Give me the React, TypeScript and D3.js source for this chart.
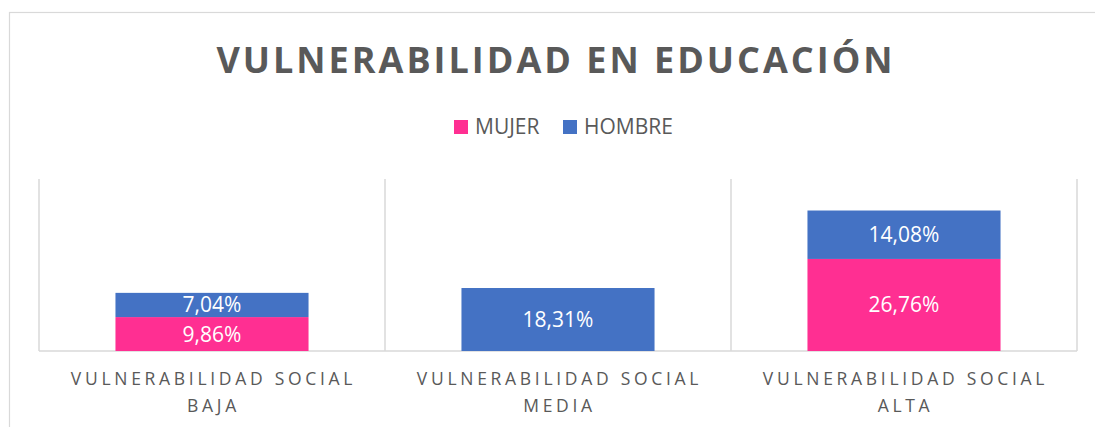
import React from 'react';
import * as d3 from 'd3';

// Stacked bars: education vulnerability by sex and social level.

const categories = [
  ['VULNERABILIDAD SOCIAL', 'BAJA'],
  ['VULNERABILIDAD SOCIAL', 'MEDIA'],
  ['VULNERABILIDAD SOCIAL', 'ALTA'],
];
const mujer = [9.86, 0, 26.76];
const hombre = [7.04, 18.31, 14.08];
const seriesNames = ['MUJER', 'HOMBRE'];
const seriesColors = ['#FF2F92', '#4472C4'];

const W = 1095;
const H = 427;
const PLOT = { left: 39, right: 1077, top: 179, bottom: 351 };
const GRID = '#d9d9d9';
const TEXT = '#595959';
const FONT = '"Open Sans", sans-serif';

const fmt = (v: number) => v.toFixed(2).replace('.', ',') + '%';

export default function App() {
  const keys = categories.map((_, i) => String(i));
  const x = d3.scaleBand().domain(keys).range([PLOT.left, PLOT.right]).padding(0);
  const y = d3.scaleLinear().domain([0, 50]).range([PLOT.bottom, PLOT.top]);
  const bw = x.bandwidth();
  const barW = bw * 0.558;

  const rows = keys.map((k, i) => ({ key: k, MUJER: mujer[i], HOMBRE: hombre[i] }));
  const stacked = d3.stack<any>().keys(seriesNames)(rows);

  const bounds = [...keys.map(k => x(k) as number), PLOT.right];

  return (
    <svg
      width={W}
      height={H}
      style={{ position: 'absolute', left: 0, top: 0, background: '#fff' }}
      fontFamily={FONT}
    >
      <rect x={9.5} y={12.5} width={W + 10} height={H + 10} fill="#fff" stroke={GRID} strokeWidth={1.2} />

      <text
        x={556}
        y={73}
        textAnchor="middle"
        fontSize={36}
        fontWeight={700}
        letterSpacing={3.0}
        fill={TEXT}
      >
        VULNERABILIDAD EN EDUCACIÓN
      </text>

      {/* legend */}
      {seriesNames.map((s, i) => {
        const lx = i === 0 ? 454 : 563;
        return (
          <g key={s}>
            <rect x={lx} y={120} width={14} height={14} fill={seriesColors[i]} />
            <text x={lx + 21} y={134} fontSize={21} fill={TEXT}>{s}</text>
          </g>
        );
      })}

      {/* vertical gridlines */}
      {bounds.map((b, i) => (
        <line key={i} x1={b} x2={b} y1={PLOT.top} y2={PLOT.bottom} stroke={GRID} strokeWidth={1.5} />
      ))}
      <line x1={PLOT.left} x2={PLOT.right} y1={PLOT.bottom} y2={PLOT.bottom} stroke={GRID} strokeWidth={1.5} />

      {/* bars */}
      {stacked.map((layer, si) => (
        <g key={seriesNames[si]}>
          {layer.map((d, i) => {
            const v = d[1] - d[0];
            if (v <= 0) return null;
            const bx = (x(keys[i]) as number) + (bw - barW) / 2;
            const y0 = y(d[0]);
            const y1 = y(d[1]);
            return (
              <g key={i}>
                <rect x={bx} y={y1} width={barW} height={y0 - y1} fill={seriesColors[si]} />
                <text
                  x={bx + barW / 2}
                  y={(y0 + y1) / 2 + 7.5}
                  textAnchor="middle"
                  fontSize={21}
                  fill="#fff"
                >
                  {fmt(v)}
                </text>
              </g>
            );
          })}
        </g>
      ))}

      {/* category labels */}
      {categories.map((lines, i) => (
        <text
          key={i}
          x={(x(keys[i]) as number) + bw / 2 + 1.5}
          textAnchor="middle"
          fontSize={17.5}
          letterSpacing={3.7}
          fill={TEXT}
        >
          {lines.map((l, j) => (
            <tspan key={j} x={(x(keys[i]) as number) + bw / 2 + 1.5} y={385 + j * 26.5}>
              {l}
            </tspan>
          ))}
        </text>
      ))}
    </svg>
  );
}
